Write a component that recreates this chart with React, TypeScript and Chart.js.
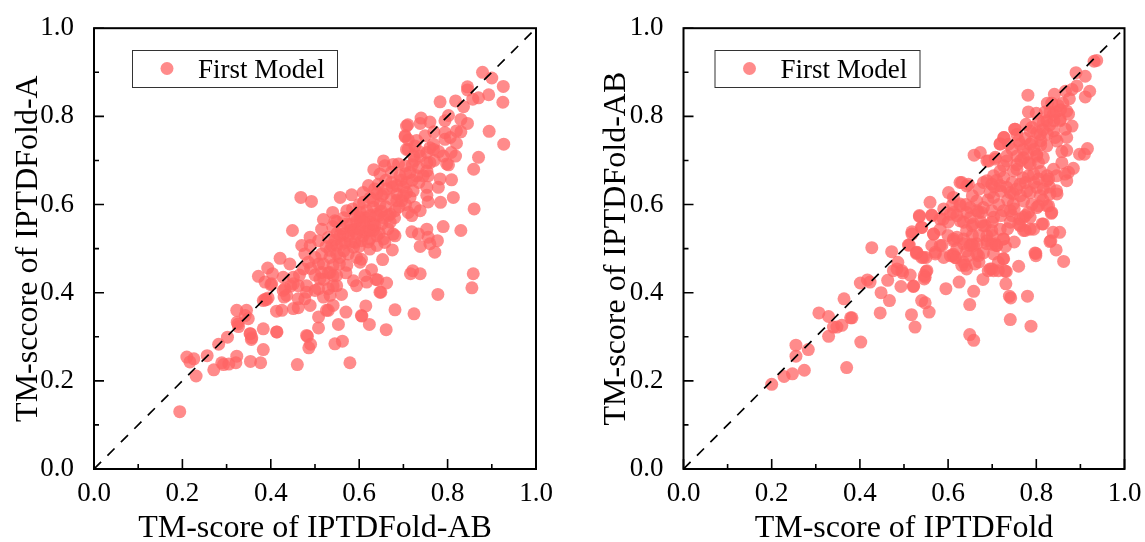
import React, { useEffect, useRef } from "react";
import { Chart, registerables } from "chart.js";

Chart.register(...registerables);

const seriesLabel = "First Model";
const tickStep = 0.1;
const diagonal: [number, number][] = [[0, 0], [0.99, 0.99]];

const leftPairs: [number, number][] = [
[.879,.900],[.900,.887],[.926,.868],[.893,.849],[.925,.832],[.894,.766],[.927,.737],[.870,.707],[.859,.680],[.860,.590],
[.845,.867],[.845,.860],[.870,.842],[.857,.839],[.818,.835],[.783,.833],[.836,.822],[.802,.802],[.794,.790],[.845,.784],
[.830,.793],[.740,.796],[.738,.784],[.760,.787],[.710,.781],[.704,.754],[.711,.747],[.830,.765],[.820,.767],[.794,.763],
[.769,.765],[.749,.756],[.806,.752],[.820,.739],[.794,.748],[.768,.737],[.760,.729],[.711,.725],[.726,.733],[.808,.718],
[.818,.710],[.802,.690],[.798,.692],[.783,.658],[.809,.656],[.779,.639],[.813,.616],[.784,.605],[.753,.639],[.753,.621],
[.756,.606],[.790,.550],[.830,.541],[.753,.544],[.719,.538],[.734,.533],[.756,.526],[.777,.518],[.760,.511],[.738,.505],
[.771,.492],[.655,.699],[.633,.679],[.658,.688],[.689,.692],[.704,.688],[.673,.673],[.723,.710],[.738,.710],[.753,.718],
[.768,.725],[.753,.695],[.760,.695],[.734,.684],[.753,.676],[.756,.665],[.730,.665],[.715,.673],[.692,.665],[.673,.650],
[.647,.669],[.685,.643],[.707,.650],[.722,.631],[.707,.627],[.685,.624],[.662,.635],[.643,.646],[.651,.620],[.621,.643],
[.609,.627],[.583,.622],[.557,.616],[.468,.616],[.492,.607],[.673,.612],[.696,.609],[.715,.616],[.726,.594],[.738,.586],
[.719,.575],[.711,.582],[.681,.586],[.666,.575],[.647,.601],[.632,.594],[.617,.586],[.602,.582],[.643,.575],[.670,.560],
[.624,.560],[.602,.560],[.572,.586],[.540,.582],[.519,.566],[.549,.561],[.572,.556],[.590,.544],[.613,.537],[.636,.552],
[.651,.556],[.681,.529],[.658,.514],[.675,.497],[.515,.544],[.489,.526],[.470,.507],[.449,.541],[.421,.478],[.443,.465],
[.393,.456],[.404,.443],[.372,.437],[.387,.424],[.402,.420],[.428,.435],[.451,.435],[.474,.454],[.485,.469],[.477,.488],
[.489,.507],[.508,.518],[.508,.465],[.515,.446],[.519,.465],[.511,.431],[.541,.439],[.549,.416],[.530,.409],[.508,.409],
[.481,.416],[.462,.416],[.451,.420],[.432,.409],[.436,.394],[.481,.401],[.477,.386],[.462,.386],[.451,.364],[.462,.366],
[.489,.371],[.425,.360],[.413,.358],[.390,.384],[.383,.382],[.323,.360],[.345,.360],[.342,.348],[.326,.329],[.349,.341],
[.353,.307],[.357,.298],[.383,.318],[.413,.311],[.508,.345],[.530,.360],[.541,.371],[.560,.396],[.570,.356],[.553,.328],
[.508,.320],[.481,.303],[.615,.370],[.605,.348],[.623,.328],[.647,.401],[.638,.430],[.587,.427],[.594,.416],[.617,.424],
[.628,.452],[.613,.439],[.572,.462],[.602,.469],[.541,.462],[.515,.488],[.534,.496],[.549,.507],[.568,.514],[.587,.503],
[.605,.518],[.624,.499],[.640,.507],[.640,.529],[.605,.476],[.594,.480],[.575,.488],[.556,.480],[.534,.446],[.541,.416],
[.534,.394],[.519,.390],[.500,.405],[.549,.439],[.579,.541],[.594,.533],[.617,.541],[.632,.541],[.609,.529],[.556,.529],
[.538,.507],[.575,.529],[.590,.514],[.624,.522],[.534,.480],[.549,.488],[.858,.443],[.855,.411],[.778,.396],[.724,.352],
[.721,.450],[.716,.443],[.738,.443],[.681,.361],[.661,.316],[.606,.347],[.526,.360],[.490,.283],[.486,.275],[.483,.301],
[.545,.284],[.562,.290],[.460,.237],[.579,.241],[.649,.401],[.662,.422],[.642,.429],[.653,.475],[.354,.244],[.377,.241],
[.383,.271],[.354,.307],[.356,.294],[.324,.333],[.327,.323],[.302,.299],[.282,.283],[.256,.257],[.210,.254],[.226,.250],
[.217,.243],[.231,.211],[.271,.225],[.289,.241],[.293,.237],[.305,.238],[.321,.241],[.323,.256],[.194,.130],[.387,.385],
[.394,.388],[.428,.405],[.430,.390],[.400,.418],[.414,.311],[.545,.563],[.564,.533],[.587,.541],[.624,.541],[.640,.578],
[.670,.578],[.685,.609],[.700,.639],[.655,.624],[.632,.609],[.602,.571],[.677,.691],[.707,.778],[.704,.756],[.707,.725],
[.594,.563],[.632,.556],[.677,.533],[.655,.522],
[.610,.605],[.625,.615],[.640,.625],[.660,.655],[.675,.640],[.695,.655],[.700,.620],[.690,.595],[.660,.595],[.615,.570],
[.590,.575],[.600,.545],[.625,.575],[.655,.570],[.665,.545],[.645,.535],[.620,.515],[.600,.505],[.580,.515],[.565,.495],
[.560,.545],[.545,.520],[.525,.505],[.530,.525],[.560,.510],[.610,.560],[.580,.555],[.650,.585],[.680,.570],[.705,.600],
[.635,.635],[.600,.600],[.585,.590],[.565,.570],[.550,.535],[.540,.550],[.720,.655],[.705,.670],[.735,.650],[.725,.700],
[.745,.665],[.770,.700],[.780,.720],[.790,.710],[.730,.745],[.735,.720],[.720,.690],[.500,.440],[.490,.455],[.520,.430],
[.530,.445],[.500,.480],[.465,.440],[.445,.415],[.570,.445],[.555,.465],
];

const rightPairs: [number, number][] = [
[.937,.927],[.931,.925],[.890,.899],[.911,.891],[.921,.857],[.911,.844],[.781,.848],[.892,.869],[.881,.861],[.866,.857],
[.841,.850],[.825,.830],[.782,.810],[.800,.807],[.850,.824],[.873,.805],[.752,.771],[.777,.782],[.726,.752],[.718,.737],
[.916,.727],[.898,.714],[.909,.714],[.659,.712],[.673,.718],[.869,.723],[.858,.695],[.884,.682],[.873,.673],[.869,.654],
[.881,.778],[.866,.771],[.869,.752],[.847,.744],[.839,.767],[.824,.733],[.688,.699],[.707,.707],[.733,.710],[.756,.710],
[.771,.725],[.790,.741],[.801,.763],[.816,.786],[.831,.809],[.854,.793],[.801,.710],[.782,.695],[.805,.695],[.839,.680],
[.824,.665],[.847,.624],[.828,.658],[.805,.658],[.816,.635],[.782,.665],[.756,.680],[.726,.688],[.703,.665],[.680,.650],
[.631,.650],[.646,.646],[.601,.627],[.612,.616],[.559,.605],[.535,.575],[.563,.575],[.582,.567],[.627,.597],[.642,.582],
[.612,.582],[.695,.627],[.718,.643],[.741,.627],[.764,.620],[.786,.627],[.809,.620],[.828,.597],[.834,.580],[.805,.597],
[.782,.582],[.771,.571],[.760,.556],[.775,.541],[.794,.544],[.816,.556],[.838,.537],[.853,.537],[.833,.518],[.845,.497],
[.797,.490],[.741,.560],[.718,.544],[.703,.571],[.676,.582],[.684,.552],[.654,.552],[.635,.560],[.582,.544],[.567,.533],
[.586,.507],[.518,.533],[.540,.548],[.612,.522],[.635,.522],[.658,.507],[.688,.529],[.707,.511],[.726,.522],[.427,.502],
[.472,.493],[.510,.508],[.529,.491],[.612,.487],[.665,.488],[.703,.488],[.200,.192],[.228,.210],[.247,.216],[.274,.224],
[.255,.256],[.255,.281],[.283,.271],[.370,.230],[.329,.301],[.402,.288],[.307,.354],[.329,.346],[.340,.322],[.348,.322],
[.359,.326],[.379,.343],[.382,.343],[.364,.386],[.446,.354],[.448,.400],[.467,.382],[.401,.422],[.417,.429],[.423,.424],
[.463,.428],[.476,.450],[.484,.454],[.486,.469],[.497,.445],[.514,.440],[.493,.414],[.522,.415],[.517,.350],[.525,.322],
[.540,.382],[.548,.377],[.557,.356],[.546,.431],[.546,.439],[.550,.448],[.595,.409],[.625,.424],[.658,.403],[.649,.373],
[.649,.305],[.658,.292],[.741,.339],[.788,.324],[.739,.392],[.742,.388],[.780,.392],[.731,.420],[.732,.448],[.679,.430],
[.760,.460],[.799,.484],[.799,.489],[.862,.471],[.831,.516],[.512,.508],[.528,.489],[.540,.480],[.550,.480],[.571,.488],
[.563,.507],[.582,.507],[.611,.484],[.618,.479],[.639,.462],[.642,.454],[.635,.469],[.646,.484],[.669,.484],[.661,.465],
[.695,.454],[.703,.450],[.714,.450],[.714,.469],[.726,.477],[.699,.510],[.710,.507],[.688,.511],[.650,.507],[.635,.511],
[.612,.518],[.665,.511],[.718,.738],[.727,.752],[.751,.771],[.692,.699],[.707,.703],[.733,.699],[.627,.650],[.642,.642],
[.763,.737],[.786,.737],[.809,.759],[.824,.790],[.801,.714],[.771,.706],[.748,.676],[.718,.676],[.688,.654],[.703,.616],
[.680,.593],[.665,.586],[.650,.593],[.627,.601],[.733,.639],[.763,.646],[.794,.669],[.824,.654],[.846,.631],[.831,.624],
[.801,.593],[.824,.597],[.835,.582],[.771,.608],[.748,.601],[.726,.586],[.786,.571],[.763,.567],[.843,.752],[.858,.720],
[.854,.790],[.869,.812],[.839,.805],[.816,.706],[.786,.767],[.756,.759],[.737,.737],[.786,.691],[.756,.691],[.726,.661],
[.699,.646],[.665,.608],[.699,.586],[.748,.624],[.779,.631],[.801,.639],[.846,.665],[.865,.669],[.518,.538],[.535,.573],
[.563,.576],[.540,.548],[.567,.533],[.571,.492],[.544,.480],[.529,.492],[.495,.450],[.552,.450],[.548,.435],[.521,.414],
[.813,.556],[.771,.541],[.786,.544],[.763,.552],[.775,.575],[.680,.552],[.699,.541],[.725,.522],[.688,.518],[.710,.507],
[.725,.477],[.699,.454],[.729,.449],[.691,.450],[.642,.495],[.654,.510],[.620,.526],[.642,.541],[.627,.563],[.605,.578],
[.657,.556],[.669,.582],[.589,.567],[.741,.586],[.605,.484],[.616,.480],[.631,.462],
[.775,.750],[.790,.775],[.805,.790],[.815,.770],[.825,.760],[.795,.725],[.780,.715],[.765,.700],[.745,.725],[.760,.745],
[.810,.735],[.830,.780],[.845,.810],[.860,.830],[.875,.840],[.855,.815],[.835,.830],[.820,.810],[.840,.790],[.810,.745],
[.770,.660],[.745,.650],[.720,.630],[.705,.640],[.690,.610],[.715,.600],[.735,.610],[.755,.635],[.775,.650],[.795,.650],
[.810,.675],[.830,.640],[.815,.610],[.790,.600],[.710,.655],[.670,.635],[.655,.620],[.640,.600],[.620,.575],[.600,.560],
[.590,.590],[.610,.600],[.650,.570],[.675,.560],[.700,.560],[.720,.575],[.735,.545],[.750,.590],[.745,.575],[.700,.530],
[.670,.530],[.655,.530],[.600,.530],[.590,.480],[.620,.500],[.680,.490],[.670,.470],[.730,.505],[.750,.515],
];

const FONT = '"Liberation Serif", "Times New Roman", serif';
const MARK = "rgba(255, 100, 100, 0.75)";

type Panel = {
  left: number;
  width: number;
  plotLeft: number;
  plotRight: number;
  xTitle: string;
  yTitle: string;
  pairs: [number, number][];
  legendBox: [number, number, number, number];
  yTitlePad: number;
};

const panels: Panel[] = [
  { left: 0, width: 572, plotLeft: 94, plotRight: 536, xTitle: "TM-score of IPTDFold-AB", yTitle: "TM-sccore of IPTDFold-A", pairs: leftPairs, legendBox: [132, 50, 205, 37], yTitlePad: 9 },
  { left: 572, width: 573, plotLeft: 111.5, plotRight: 552.5, xTitle: "TM-score of IPTDFold", yTitle: "TM-score of IPTDFold-AB", pairs: rightPairs, legendBox: [142.5, 50, 205, 37], yTitlePad: 25 },
];

function frame(legendBox: [number, number, number, number]) {
  return {
    id: "frame",
    afterDatasetsDraw(chart: any) {
      const { ctx, chartArea: a, scales } = chart;
      ctx.save();
      ctx.strokeStyle = "#000";
      ctx.lineWidth = 1.6;
      ctx.beginPath();
      for (const t of scales.x.ticks) {
        const p = scales.x.getPixelForValue(t.value);
        ctx.moveTo(p, a.bottom);
        ctx.lineTo(p, a.bottom - (t.label ? 10 : 5));
      }
      for (const t of scales.y.ticks) {
        const p = scales.y.getPixelForValue(t.value);
        ctx.moveTo(a.left, p);
        ctx.lineTo(a.left + (t.label ? 10 : 5), p);
      }
      ctx.stroke();
      ctx.lineWidth = 2;
      ctx.strokeRect(a.left, a.top, a.right - a.left, a.bottom - a.top);
      const [bx, by, bw, bh] = legendBox;
      ctx.lineWidth = 1;
      ctx.strokeStyle = "#333";
      ctx.fillStyle = "#fff";
      ctx.fillRect(bx, by, bw, bh);
      ctx.strokeRect(bx + 0.5, by + 0.5, bw, bh);
      ctx.fillStyle = MARK;
      ctx.beginPath();
      ctx.arc(bx + 35, by + 18.5, 6.5, 0, Math.PI * 2);
      ctx.fill();
      ctx.fillStyle = "#000";
      ctx.font = `27px ${FONT}`;
      ctx.textBaseline = "middle";
      ctx.textAlign = "left";
      ctx.fillText(chart.data.datasets[1].label, bx + 66, by + 21);
      ctx.restore();
    },
  };
}

function ScatterPanel({ panel }: { panel: Panel }) {
  const ref = useRef<HTMLCanvasElement>(null);
  useEffect(() => {
    const axis = (title: string, size: number, pad: any, isX: boolean) => ({
      type: "linear" as const,
      min: 0,
      max: 1,
      grid: { display: false },
      border: { display: false },
      ticks: {
        stepSize: tickStep,
        autoSkip: false,
        maxRotation: 0,
        color: "#000",
        padding: isX ? 1 : 12,
        font: { family: FONT, size: 27 },
        callback: (v: any) => (Math.round(v * 10) % 2 === 0 ? Number(v).toFixed(1) : ""),
      },
      title: { display: true, text: title, color: "#000", padding: pad, font: { family: FONT, size: 32 } },
      afterFit: (s: any) => {
        if (isX) s.height = size;
        else s.width = size;
      },
    });
    const chart = new Chart(ref.current!, {
      type: "scatter",
      data: {
        datasets: [
          {
            type: "line",
            label: "y = x",
            data: diagonal.map(([x, y]) => ({ x, y })),
            borderColor: "#000",
            borderWidth: 1.7,
            borderDash: [10, 9],
            pointRadius: 0,
            fill: false,
            order: 0,
          },
          {
            label: seriesLabel,
            data: panel.pairs.map(([x, y]) => ({ x, y })),
            backgroundColor: MARK,
            borderWidth: 0,
            pointRadius: 6.5,
            order: 1,
          },
        ],
      },
      options: {
        responsive: false,
        animation: false,
        layout: { padding: { top: 27, right: panel.width - panel.plotRight, left: 0, bottom: 0 } },
        plugins: { legend: { display: false }, tooltip: { enabled: false } },
        scales: {
          x: axis(panel.xTitle, 73, { top: 0, bottom: -6 }, true),
          y: axis(panel.yTitle, panel.plotLeft, { top: panel.yTitlePad, bottom: 0 }, false),
        },
      } as any,
      plugins: [frame(panel.legendBox)],
    });
    return () => chart.destroy();
  }, [panel]);
  return (
    <canvas
      ref={ref}
      width={panel.width}
      height={542}
      style={{ position: "absolute", left: panel.left, top: 0, width: panel.width, height: 542 }}
    />
  );
}

export default function App() {
  return (
    <div style={{ position: "absolute", left: 0, top: 0, width: 1145, height: 542, background: "#fff" }}>
      {panels.map((p) => (
        <ScatterPanel key={p.left} panel={p} />
      ))}
    </div>
  );
}
